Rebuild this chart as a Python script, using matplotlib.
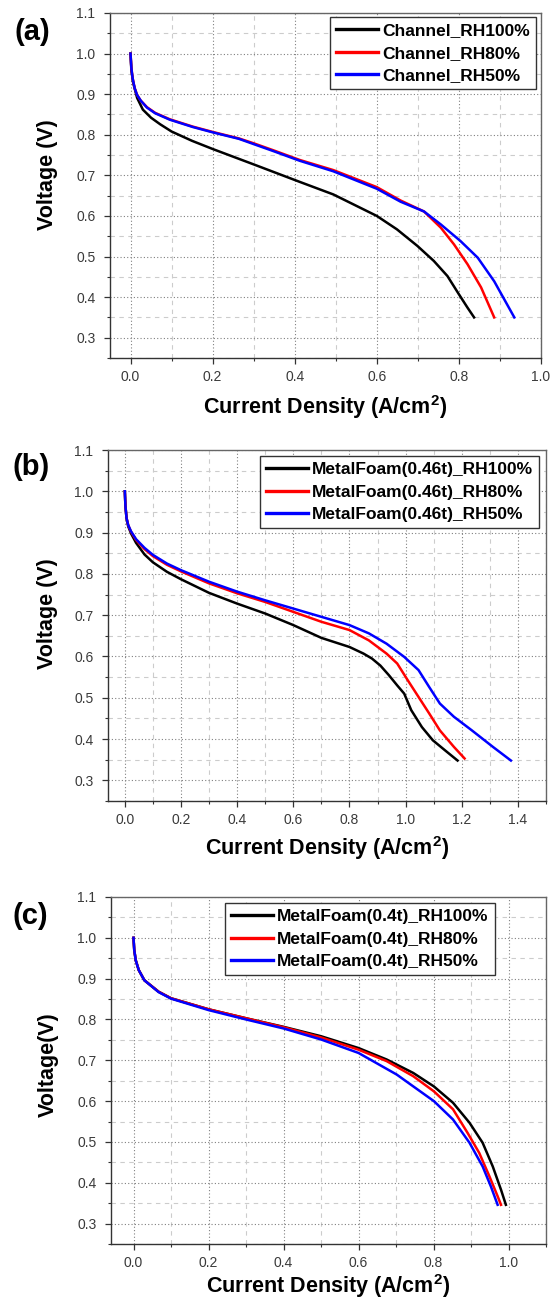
import matplotlib
matplotlib.use("Agg")
import matplotlib.pyplot as plt
from matplotlib.ticker import MultipleLocator

plt.rcParams['font.family'] = ['Liberation Sans', 'DejaVu Sans']
plt.rcParams['mathtext.fontset'] = 'custom'
plt.rcParams['mathtext.rm'] = 'Liberation Sans'
plt.rcParams['mathtext.bf'] = 'Liberation Sans:bold'

# (a) conventional channel flow field
ch100_j = [0.0, 0.002, 0.006, 0.016, 0.03, 0.05, 0.072, 0.1, 0.15, 0.2, 0.3, 0.412, 0.494, 0.56, 0.6,
           0.649, 0.699, 0.739, 0.772, 0.8, 0.821, 0.837]
ch100_v = [1.0, 0.96, 0.93, 0.891, 0.862, 0.842, 0.826, 0.808, 0.785, 0.765, 0.727, 0.684, 0.653, 0.620, 0.600,
           0.567, 0.526, 0.489, 0.452, 0.407, 0.374, 0.350]
ch80_j = [0.0, 0.002, 0.005, 0.01, 0.016, 0.025, 0.04, 0.06, 0.096, 0.152, 0.2, 0.264, 0.3, 0.35,
          0.412, 0.494, 0.6, 0.658, 0.715, 0.756, 0.788, 0.821, 0.854, 0.886]
ch80_v = [1.0, 0.965, 0.94, 0.915, 0.898, 0.884, 0.868, 0.854, 0.838, 0.820, 0.807, 0.791, 0.779, 0.761,
          0.738, 0.713, 0.671, 0.638, 0.611, 0.571, 0.530, 0.481, 0.424, 0.350]
ch50_j = [0.0, 0.002, 0.005, 0.01, 0.016, 0.025, 0.04, 0.06, 0.096, 0.152, 0.2, 0.264, 0.3, 0.35,
          0.412, 0.494, 0.6, 0.658, 0.715, 0.756, 0.804, 0.846, 0.886, 0.935]
ch50_v = [1.0, 0.965, 0.94, 0.915, 0.898, 0.884, 0.867, 0.853, 0.837, 0.819, 0.806, 0.790, 0.777, 0.759,
          0.736, 0.710, 0.667, 0.635, 0.611, 0.579, 0.538, 0.497, 0.439, 0.350]

# (b) metal foam, 0.46 t
mf46_100_j = [0.0, 0.002, 0.006, 0.012, 0.022, 0.04, 0.07, 0.1, 0.15, 0.2, 0.3, 0.4, 0.5, 0.6, 0.7,
              0.8, 0.85, 0.88, 0.91, 0.94, 0.97, 0.995, 1.02, 1.058, 1.097, 1.147, 1.185]
mf46_100_v = [1.0, 0.965, 0.935, 0.915, 0.898, 0.875, 0.847, 0.828, 0.805, 0.787, 0.754, 0.728, 0.704,
              0.676, 0.645, 0.623, 0.607, 0.595, 0.578, 0.555, 0.530, 0.510, 0.470, 0.429, 0.397, 0.369, 0.348]
mf46_80_j = [0.0, 0.002, 0.006, 0.012, 0.022, 0.04, 0.07, 0.1, 0.15, 0.2, 0.3, 0.4, 0.5, 0.6, 0.7, 0.8,
             0.869, 0.932, 0.97, 1.008, 1.046, 1.084, 1.122, 1.172, 1.21]
mf46_80_v = [1.0, 0.965, 0.935, 0.918, 0.902, 0.882, 0.860, 0.843, 0.822, 0.806, 0.777, 0.753, 0.732,
             0.708, 0.684, 0.664, 0.639, 0.607, 0.583, 0.542, 0.502, 0.462, 0.421, 0.381, 0.353]
mf46_50_j = [0.0, 0.002, 0.006, 0.012, 0.022, 0.04, 0.07, 0.1, 0.15, 0.2, 0.3, 0.4, 0.5, 0.6, 0.7, 0.8,
             0.869, 0.932, 0.995, 1.046, 1.084, 1.122, 1.172, 1.236, 1.311, 1.375]
mf46_50_v = [1.0, 0.965, 0.935, 0.918, 0.903, 0.884, 0.863, 0.846, 0.825, 0.809, 0.781, 0.757, 0.736,
             0.716, 0.696, 0.676, 0.656, 0.631, 0.599, 0.567, 0.526, 0.486, 0.454, 0.421, 0.381, 0.348]

# (c) metal foam, 0.4 t
mf40_100_j = [0.0, 0.002, 0.006, 0.014, 0.029, 0.067, 0.1, 0.2, 0.3, 0.4, 0.5, 0.6, 0.675, 0.746, 0.801,
              0.852, 0.896, 0.931, 0.958, 0.980, 0.993]
mf40_100_v = [1.0, 0.97, 0.945, 0.921, 0.896, 0.868, 0.852, 0.825, 0.803, 0.782, 0.759, 0.730, 0.702,
              0.669, 0.636, 0.596, 0.547, 0.498, 0.440, 0.383, 0.346]
mf40_80_j = [0.0, 0.002, 0.006, 0.014, 0.029, 0.067, 0.1, 0.2, 0.3, 0.4, 0.5, 0.6, 0.675, 0.746, 0.801,
             0.852, 0.891, 0.922, 0.949, 0.971, 0.980]
mf40_80_v = [1.0, 0.97, 0.945, 0.921, 0.896, 0.868, 0.852, 0.825, 0.803, 0.781, 0.756, 0.726, 0.698,
             0.661, 0.624, 0.580, 0.522, 0.473, 0.416, 0.367, 0.346]
mf40_50_j = [0.0, 0.002, 0.006, 0.014, 0.029, 0.067, 0.1, 0.2, 0.3, 0.4, 0.5, 0.6, 0.702, 0.801, 0.852,
             0.896, 0.931, 0.953, 0.971]
mf40_50_v = [1.0, 0.97, 0.945, 0.921, 0.896, 0.867, 0.851, 0.823, 0.800, 0.778, 0.751, 0.718, 0.665,
             0.600, 0.555, 0.498, 0.440, 0.391, 0.346]

labels_a = ["Channel_RH100%", "Channel_RH80%", "Channel_RH50%"]
labels_b = ["MetalFoam(0.46t)_RH100%", "MetalFoam(0.46t)_RH80%", "MetalFoam(0.46t)_RH50%"]
labels_c = ["MetalFoam(0.4t)_RH100%", "MetalFoam(0.4t)_RH80%", "MetalFoam(0.4t)_RH50%"]
colors = ["#000000", "#ff0000", "#0000ff"]

W, H = 560, 1305
fig = plt.figure(figsize=(W / 100, H / 100), dpi=100)
fig.patch.set_facecolor("white")


def add_panel(box, xlim, xmax_tick, curves, labels, letter, letter_xy,
              ylabel, ylabel_xy, xlabel_y, legend_xy):
    left, right, top, bottom = box
    ax = fig.add_axes([left / W, 1 - bottom / H, (right - left) / W, (bottom - top) / H])

    for (j, v), lab, c in zip(curves, labels, colors):
        ax.plot(j, v, color=c, lw=1.8, label=lab, solid_joinstyle="round")

    ax.set_xlim(*xlim)
    ax.set_ylim(0.25, 1.1)
    ax.set_xticks([round(0.2 * i, 1) for i in range(int(round(xmax_tick / 0.2)) + 1)])
    ax.set_yticks([0.3, 0.4, 0.5, 0.6, 0.7, 0.8, 0.9, 1.0, 1.1])
    ax.xaxis.set_major_formatter(plt.FormatStrFormatter("%.1f"))
    ax.yaxis.set_major_formatter(plt.FormatStrFormatter("%.1f"))
    ax.xaxis.set_minor_locator(MultipleLocator(0.1))
    ax.yaxis.set_minor_locator(MultipleLocator(0.05))

    ax.set_axisbelow(True)
    ax.grid(True, which="major", color="#808080", linestyle=(0, (1, 2)), lw=0.8)
    ax.grid(True, which="minor", color="#cccccc", linestyle=(0, (4, 4)), lw=0.8)

    ax.tick_params(which="major", direction="out", length=4.5, width=0.9,
                   labelsize=10, labelcolor="#3a3a3a", color="#333333")
    ax.tick_params(axis="y", which="major", pad=6)
    ax.tick_params(axis="x", which="major", pad=4)
    ax.tick_params(which="minor", direction="out", length=2.5, width=0.8, color="#333333")
    for side in ["left", "bottom"]:
        ax.spines[side].set_color("#333333")
        ax.spines[side].set_linewidth(1.0)
    for side in ["top", "right"]:
        ax.spines[side].set_color("#666666")
        ax.spines[side].set_linewidth(1.0)

    ax.set_xlabel(r"Current Density (A/cm$\mathbf{^2}$)", fontsize=15.5,
                  fontweight="bold", va="center")
    ax.xaxis.set_label_coords(0.5, (bottom - xlabel_y) / (bottom - top))
    ax.set_ylabel(ylabel, fontsize=15.5, fontweight="bold", va="center")
    ax.yaxis.set_label_coords((ylabel_xy[0] - left) / (right - left),
                              (bottom - ylabel_xy[1]) / (bottom - top))

    leg = ax.legend(loc="upper left", bbox_to_anchor=(legend_xy[0] / W, 1 - legend_xy[1] / H),
                    bbox_transform=fig.transFigure, borderaxespad=0,
                    prop={"weight": "bold", "size": 12.5}, handlelength=2.4,
                    handletextpad=0.25, labelspacing=0.42, borderpad=0.35,
                    fancybox=False, framealpha=1, edgecolor="#333333")
    leg.get_frame().set_linewidth(1.0)
    for line in leg.get_lines():
        line.set_linewidth(2.4)

    fig.text(letter_xy[0] / W, 1 - letter_xy[1] / H, letter, fontsize=21,
             fontweight="bold", ha="center", va="center")
    return ax


add_panel((110, 541, 13, 358), (-0.05, 1.0), 1.0,
          [(ch100_j, ch100_v), (ch80_j, ch80_v), (ch50_j, ch50_v)],
          labels_a, "(a)", (32, 32), "Voltage (V)", (48, 175), 407, (330, 17))

add_panel((108, 546, 450, 801), (-0.06, 1.5), 1.4,
          [(mf46_100_j, mf46_100_v), (mf46_80_j, mf46_80_v), (mf46_50_j, mf46_50_v)],
          labels_b, "(b)", (31, 467), "Voltage (V)", (48, 614), 848, (260, 456))

add_panel((111, 546, 897, 1244), (-0.06, 1.1), 1.0,
          [(mf40_100_j, mf40_100_v), (mf40_80_j, mf40_80_v), (mf40_50_j, mf40_50_v)],
          labels_c, "(c)", (30, 916), "Voltage(V)", (48, 1065), 1286, (225, 903))

fig.savefig("out.png", dpi=100)
